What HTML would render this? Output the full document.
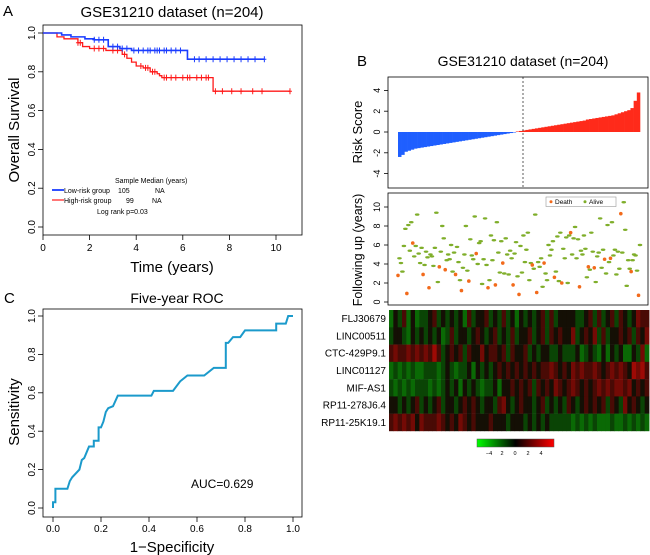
<!DOCTYPE html>
<html><head><meta charset="utf-8">
<style>
html,body{margin:0;padding:0;background:#fff;}
svg{display:block;font-family:"Liberation Sans",Arial,sans-serif;}
</style></head>
<body>
<svg id="fig" width="650" height="555" viewBox="0 0 650 555" xmlns="http://www.w3.org/2000/svg">
<g id="pA"></g>
<g id="pB"></g>
<g id="pC"></g>
</svg>
<script>
// ---------- Panel A data ----------
const lowStepsT = [0,0.8,1.2,1.8,2.2,2.8,3.3,3.8,6.2,9.5];
const lowStepsS = [1,0.99,0.98,0.97,0.965,0.93,0.92,0.91,0.865,0.865];
const highStepsT = [0,0.6,0.9,1.5,1.7,2.0,2.7,3.4,3.6,3.8,4.0,4.3,4.6,4.9,5.0,5.1,7.3,10.6];
const highStepsS = [1,0.98,0.97,0.95,0.93,0.92,0.91,0.89,0.87,0.85,0.83,0.82,0.80,0.79,0.78,0.77,0.70,0.70];
const lowCensor = [2.2,2.4,2.6,3.0,3.2,3.4,3.6,3.9,4.1,4.3,4.5,4.6,4.8,4.9,5.0,5.2,5.3,5.5,5.7,5.9,6.5,6.7,7.0,7.3,7.6,7.9,8.2,8.5,8.8,9.1,9.5];
const highCensor = [1.5,1.6,2.2,2.4,2.6,3.0,3.2,3.5,4.2,4.4,4.5,4.7,4.8,5.2,5.3,5.5,5.7,6.0,6.2,6.3,6.6,6.8,7.0,7.1,7.4,7.7,8.1,8.5,9.0,9.4,10.6];
const kmXTicks = [0,2,4,6,8,10];
const kmYTicks = [0,0.2,0.4,0.6,0.8,1.0];
const kmYLabels = ["0.0","0.2","0.4","0.6","0.8","1.0"];

// ---------- Panel B data ----------
const riskScores = [-2.4,-2.2,-1.9,-1.8,-1.7,-1.6,-1.55,-1.5,-1.45,-1.4,-1.35,-1.3,-1.25,-1.2,-1.15,-1.1,-1.05,-1.0,-0.95,-0.9,-0.85,-0.8,-0.75,-0.7,-0.65,-0.6,-0.55,-0.5,-0.45,-0.4,-0.35,-0.3,-0.25,-0.2,-0.15,-0.1,-0.05,0.05,0.1,0.15,0.2,0.25,0.3,0.35,0.4,0.45,0.5,0.55,0.6,0.65,0.7,0.75,0.8,0.85,0.9,0.95,1.0,1.05,1.1,1.2,1.25,1.3,1.35,1.4,1.45,1.5,1.55,1.6,1.7,1.8,1.9,2.0,2.1,2.3,3.0,3.8];
const riskTicks = [-4,-2,0,2,4];
const fuYears = [2.8,4.6,4.1,3.2,5.9,7.7,0.9,8.1,5.4,8.4,6.2,4.8,5.9,9.2,5.1,4.1,5.7,2.9,3.9,5.3,4.7,1.5,5.0,4.8,3.8,5.7,9.4,2.1,3.7,5.3,8.0,6.7,3.4,4.4,5.0,4.5,6.0,3.2,5.2,2.9,5.8,4.2,2.3,1.2,3.6,5.0,8.0,3.3,2.2,6.6,4.9,4.5,9.0,5.1,4.0,6.2,6.4,1.9,4.5,8.8,3.9,1.5,2.3,7.0,4.4,6.5,1.8,8.4,5.2,3.1,6.4,4.1,3.0,6.7,5.0,2.9,5.4,4.6,1.8,5.1,6.3,2.7,0.8,5.9,3.1,7.0,4.2,5.5,7.3,2.3,4.1,3.9,3.5,9.2,1.0,4.2,3.7,4.6,1.6,4.1,3.0,2.3,6.0,4.9,5.5,6.4,2.6,3.2,6.9,2.2,7.3,2.0,5.6,4.6,6.8,2.0,7.0,7.3,5.0,6.7,7.9,4.6,6.6,1.6,5.4,5.0,7.0,5.6,2.6,3.7,3.4,7.3,5.3,3.6,2.1,4.8,5.2,8.8,3.6,5.5,4.5,3.0,8.1,4.2,4.6,8.4,4.9,5.5,2.9,5.3,3.5,9.3,5.2,10.5,7.6,1.7,4.4,3.5,3.2,4.4,5.0,4.9,3.3,0.7,6.0];
const fuDead = [1,0,0,0,0,0,1,0,0,0,1,0,0,0,0,0,0,1,0,0,0,1,0,0,0,0,0,0,1,0,0,0,1,0,0,0,0,0,0,1,0,0,0,1,0,0,0,0,1,0,0,0,0,1,0,0,0,0,0,0,0,1,0,0,0,0,1,0,0,0,0,1,0,0,0,0,0,0,1,0,0,0,1,0,0,0,0,0,0,0,0,1,0,0,1,0,0,0,0,1,0,0,0,0,0,0,1,0,0,0,0,1,0,0,0,0,0,1,0,0,0,0,0,1,0,0,0,0,0,1,0,0,0,1,0,0,0,0,0,0,1,0,0,0,1,0,0,0,0,0,0,1,0,0,0,0,0,0,1,0,0,0,0,1,0];
const fuTicks = [0,2,4,6,8,10];
const geneNames = ["FLJ30679","LINC00511","CTC-429P9.1","LINC01127","MIF-AS1","RP11-278J6.4","RP11-25K19.1"];
const geneRows = [
"243524233453434342534453435342434345353444433453534535434655",
"344324343434235344345434534353445345354544634546353445453546",
"565565656575345453544645545354453434433433342343242434224362",
"232323223332343233424343454545454545565454656556545656547675",
"323232333232343424343233424454545354546545654545656566564545",
"443434534345344345454344356434544345343435434545453543645434",
"565656465556545465454445444344434343433333232323222322323232"];
const cbTicks = [-4,-2,0,2,4];
const cbLabels = ["\u22124","2","0","2","4"];

// ---------- Panel C data ----------
const rocFPR = [0,0,0.01,0.01,0.06,0.07,0.08,0.11,0.12,0.13,0.15,0.17,0.17,0.19,0.19,0.2,0.21,0.22,0.23,0.25,0.27,0.41,0.42,0.5,0.53,0.56,0.63,0.67,0.72,0.72,0.73,0.75,0.78,0.8,0.93,0.93,0.97,0.98,1.0];
const rocTPR = [0,0.03,0.03,0.1,0.1,0.14,0.16,0.2,0.25,0.26,0.32,0.32,0.35,0.35,0.42,0.42,0.45,0.5,0.52,0.53,0.585,0.585,0.61,0.61,0.66,0.69,0.69,0.73,0.73,0.86,0.86,0.89,0.89,0.925,0.925,0.96,0.96,1.0,1.0];
const rocTicks = [0,0.2,0.4,0.6,0.8,1.0];
const rocLabels = ["0.0","0.2","0.4","0.6","0.8","1.0"];

const NS="http://www.w3.org/2000/svg";
function mk(parent,tag,attrs,txt){const e=document.createElementNS(NS,tag);for(const k in attrs)e.setAttribute(k,attrs[k]);if(txt!==undefined)e.textContent=txt;parent.appendChild(e);return e;}

// ===== Panel A =====
(function(){
const g=document.getElementById('pA');
const xA=t=>43+23.3*t, yA=s=>227-194*s;
let e;
e=mk(g,'text',{x:3,y:16,'font-size':15},'A');


e=mk(g,'text',{x:172,y:17,'font-size':15,'text-anchor':'middle'},'GSE31210 dataset (n=204)');


e=mk(g,'rect',{x:43,y:25,width:259,height:210,fill:'none',stroke:'#000','stroke-width':0.8});


kmYTicks.forEach((v,i)=>{
  mk(g,'line',{x1:43,x2:38,y1:yA(v),y2:yA(v),stroke:'#000','stroke-width':0.8});
  const t=mk(g,'text',{x:35,y:yA(v),'font-size':10,'text-anchor':'middle',transform:`rotate(-90 35 ${yA(v)})`},kmYLabels[i]);
  
  
});
kmXTicks.forEach(v=>{
  mk(g,'line',{x1:xA(v),x2:xA(v),y1:235,y2:240,stroke:'#000','stroke-width':0.8});
  const t=mk(g,'text',{x:xA(v),y:251,'font-size':10,'text-anchor':'middle'},String(v));
  
  
});
e=mk(g,'text',{x:172,y:272,'font-size':15,'text-anchor':'middle'},'Time (years)');


e=mk(g,'text',{x:19,y:130,'font-size':15,'text-anchor':'middle',transform:'rotate(-90 19 130)'},'Overall Survival');


function steps(T,S){let d=`M${xA(T[0])},${yA(S[0])}`;for(let i=1;i<T.length;i++){d+=` H${xA(T[i])} V${yA(S[i])}`;}return d;}
function surv(T,S,t){let s=S[0];for(let i=0;i<T.length;i++){if(T[i]<=t)s=S[i];}return s;}
e=mk(g,'path',{d:steps(highStepsT,highStepsS),fill:'none',stroke:'#ff1a1a','stroke-width':1.3});


e=mk(g,'path',{d:steps(lowStepsT,lowStepsS),fill:'none',stroke:'#1a3cff','stroke-width':1.6});


highCensor.forEach(t=>{const y=yA(surv(highStepsT,highStepsS,t)),x=xA(t);
  const c=mk(g,'path',{d:`M${x},${y-3}V${y+3}M${x-2},${y}H${x+2}`,stroke:'#ff1a1a','stroke-width':1});
  
  });
lowCensor.forEach(t=>{const y=yA(surv(lowStepsT,lowStepsS,t)),x=xA(t);
  const c=mk(g,'path',{d:`M${x},${y-3}V${y+3}M${x-2},${y}H${x+2}`,stroke:'#1a3cff','stroke-width':1});
  
  });
const lg=mk(g,'g',{'font-size':7});


mk(lg,'text',{x:115,y:183},'Sample  Median (years)');
mk(lg,'line',{x1:52,x2:64,y1:190,y2:190,stroke:'#1a3cff','stroke-width':1.8});
mk(lg,'text',{x:64,y:193},'Low-risk group');
mk(lg,'text',{x:118,y:193},'105');
mk(lg,'text',{x:155,y:193},'NA');
mk(lg,'line',{x1:52,x2:64,y1:200,y2:200,stroke:'#ff1a1a','stroke-width':1.2});
mk(lg,'text',{x:64,y:203},'High-risk group');
mk(lg,'text',{x:126,y:203},'99');
mk(lg,'text',{x:152,y:203},'NA');
mk(lg,'text',{x:97,y:214},'Log rank p=0.03');
})();

// ===== Panel B =====
(function(){
const g=document.getElementById('pB');
let e;
e=mk(g,'text',{x:357,y:66,'font-size':15},'B');


e=mk(g,'text',{x:523,y:66,'font-size':14,'text-anchor':'middle'},'GSE31210 dataset (n=204)');


const yR=v=>132-10.4*v;
const N=riskScores.length, bw=242/N;
riskScores.forEach((v,i)=>{
  const x=398+i*bw;
  const b=mk(g,'rect',{x:x,width:bw+0.3,y:Math.min(yR(v),yR(0)),height:Math.abs(yR(v)-yR(0)),fill:v<0?'#1f5fff':'#ff2a1a'});
  
  
});
e=mk(g,'line',{x1:523,x2:523,y1:77,y2:188,stroke:'#333','stroke-width':0.8,'stroke-dasharray':'2,2'});


e=mk(g,'rect',{x:388,y:77,width:260,height:111,fill:'none',stroke:'#000','stroke-width':0.8});


riskTicks.forEach(v=>{
  mk(g,'line',{x1:388,x2:384,y1:yR(v),y2:yR(v),stroke:'#000','stroke-width':0.8});
  const t=mk(g,'text',{x:380,y:yR(v),'font-size':9,'text-anchor':'middle',transform:`rotate(-90 380 ${yR(v)})`},String(v));
  
  
});
e=mk(g,'text',{x:362,y:132,'font-size':13,'text-anchor':'middle',transform:'rotate(-90 362 132)'},'Risk Score');


const yF=v=>302-9.5*v;
e=mk(g,'rect',{x:388,y:193,width:260,height:112,fill:'none',stroke:'#000','stroke-width':0.8});


const M=fuYears.length;
fuYears.forEach((v,i)=>{
  const x=398+i*(242/(M-1));
  let p;
  if(fuDead[i]) p=mk(g,'circle',{cx:x,cy:yF(v),r:1.8,fill:'#f26a1b'});
  else p=mk(g,'ellipse',{cx:x,cy:yF(v),rx:2.3,ry:1.2,fill:'#7fae2a'});
  
  
});
fuTicks.forEach(v=>{
  mk(g,'line',{x1:388,x2:384,y1:yF(v),y2:yF(v),stroke:'#000','stroke-width':0.8});
  const t=mk(g,'text',{x:380,y:yF(v),'font-size':9,'text-anchor':'middle',transform:`rotate(-90 380 ${yF(v)})`},String(v));
  
  
});
e=mk(g,'text',{x:362,y:250,'font-size':12.5,'text-anchor':'middle',transform:'rotate(-90 362 250)'},'Following up (years)');


const lg=mk(g,'g',{'font-size':6.5});


mk(lg,'rect',{x:546,y:197,width:70,height:9.5,fill:'#fff',stroke:'#999','stroke-width':0.6});
mk(lg,'circle',{cx:551,cy:201.8,r:1.5,fill:'#f26a1b'});
mk(lg,'text',{x:555,y:204},'Death');
mk(lg,'circle',{cx:585,cy:201.8,r:1.5,fill:'#7fae2a'});
mk(lg,'text',{x:589,y:204},'Alive');
function col(c){const v=(parseInt(c,10)-4)/4;let r=20,gg=15;if(v>0){r=Math.round(30+170*v);gg=10;}if(v<0){gg=Math.round(30+150*(-v));r=10;}return `rgb(${r},${gg},5)`;}
const rh=121/geneRows.length;
geneRows.forEach((row,ri)=>{
  const cw=260/row.length;
  for(let c=0;c<row.length;c++){
    const cell=mk(g,'rect',{x:389+c*cw,y:310+ri*rh,width:cw+0.4,height:rh+0.2,fill:col(row[c])});
    
    
  }
  const t=mk(g,'text',{x:386,y:310+ri*rh+rh/2+3.5,'font-size':10,'text-anchor':'end'},geneNames[ri]);
  
  
});
const defs=mk(g,'defs',{});
const lgd=mk(defs,'linearGradient',{id:'cbg',x1:0,x2:1,y1:0,y2:0});
mk(lgd,'stop',{offset:'0','stop-color':'#00ff00'});
mk(lgd,'stop',{offset:'0.5','stop-color':'#000'});
mk(lgd,'stop',{offset:'1','stop-color':'#ff0000'});
e=mk(g,'rect',{x:477,y:439,width:77,height:8,fill:'url(#cbg)',stroke:'#555','stroke-width':0.5});


const xC=v=>515+v*6.5;
cbTicks.forEach((v,i)=>{
  const t=mk(g,'text',{x:xC(v),y:455,'font-size':5.5,'text-anchor':'middle'},cbLabels[i]);
  
  
});
})();

// ===== Panel C =====
(function(){
const g=document.getElementById('pC');
const xR=v=>53+240*v, yRc=v=>508-192*v;
let e;
e=mk(g,'text',{x:4,y:303,'font-size':15},'C');


e=mk(g,'text',{x:177,y:303,'font-size':14,'text-anchor':'middle'},'Five-year ROC');


e=mk(g,'rect',{x:43,y:309,width:259,height:208,fill:'none',stroke:'#000','stroke-width':0.8});


rocTicks.forEach((v,i)=>{
  mk(g,'line',{x1:43,x2:38,y1:yRc(v),y2:yRc(v),stroke:'#000','stroke-width':0.8});
  let t=mk(g,'text',{x:35,y:yRc(v),'font-size':10,'text-anchor':'middle',transform:`rotate(-90 35 ${yRc(v)})`},rocLabels[i]);
  
  
  mk(g,'line',{x1:xR(v),x2:xR(v),y1:517,y2:522,stroke:'#000','stroke-width':0.8});
  t=mk(g,'text',{x:xR(v),y:532,'font-size':10,'text-anchor':'middle'},rocLabels[i]);
  
  
});
e=mk(g,'text',{x:172,y:552,'font-size':15,'text-anchor':'middle'},'1\u2212Specificity');


e=mk(g,'text',{x:19,y:412,'font-size':15,'text-anchor':'middle',transform:'rotate(-90 19 412)'},'Sensitivity');


let d='';rocFPR.forEach((v,i)=>{d+=(i?'L':'M')+xR(v)+','+yRc(rocTPR[i]);});
e=mk(g,'path',{d:d,fill:'none',stroke:'#1b9acb','stroke-width':2});


e=mk(g,'text',{x:191,y:488,'font-size':12},'AUC=0.629');


})();
</script>
</body></html>
